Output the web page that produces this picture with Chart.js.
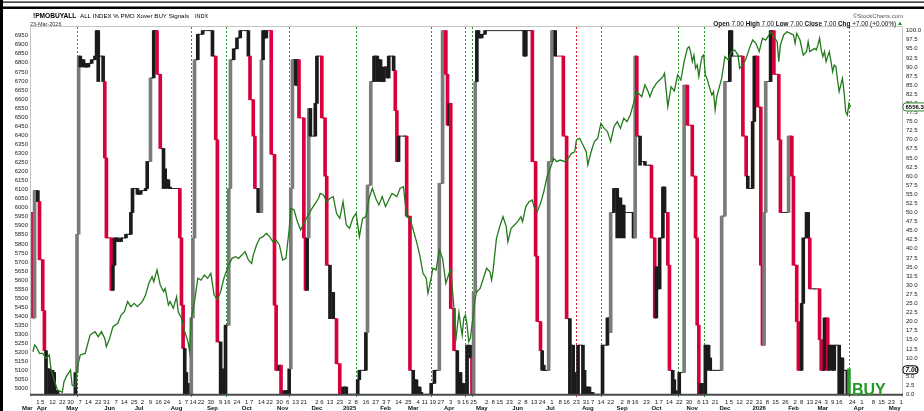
<!DOCTYPE html>
<html>
<head>
<meta charset="utf-8">
<title>!PMOBUYALL</title>
<script src="https://cdn.jsdelivr.net/npm/chart.js@4.4.1/dist/chart.umd.min.js"></script>
<style>
  html, body { margin: 0; padding: 0; background: #fff; }
  #wrap { width: 924px; height: 411px; }
</style>
</head>
<body>
<div id="wrap"><canvas id="chart" width="924" height="411"></canvas></div>
<script>
// x values are trading-day numbers, 0 = end of Mar 2024, 500 = 23-Mar-2026

// S&P 500 close (left axis), [day, close]
const spxCloses = [
  [0,5204],[1,5241],[2,5232],[4,5195],[6,5195],[8,5168],[10,5186],[11,5112],[13,5048],[15,4993],[18,4980],[19,5039],
  [21,5076],[23,5103],[24,5020],[26,5011],[27,5112],[29,5186],[32,5195],[35,5296],[38,5315],[40,5287],[42,5315],
  [44,5278],[45,5232],[47,5278],[49,5343],[52,5361],[54,5407],[56,5425],[58,5481],[60,5453],[62,5471],[64,5453],
  [67,5481],[69,5517],[71,5582],[73,5619],[74,5591],[76,5656],[78,5573],[80,5536],[81,5554],[83,5462],[84,5481],
  [86,5444],[88,5508],[89,5425],[91,5389],[93,5315],[95,5260],[96,5204],[97,5390],[99,5481],[101,5610],[103,5600],
  [105,5628],[107,5610],[109,5637],[111,5517],[113,5490],[115,5536],[117,5610],[120,5683],[122,5720],[124,5729],
  [126,5720],[128,5738],[130,5757],[132,5711],[134,5692],[135,5738],[137,5794],[139,5831],[141,5840],[143,5858],
  [145,5840],[147,5812],[149,5821],[151,5794],[153,5711],[155,5720],[157,5880],[158,5996],[160,5987],[162,5923],
  [164,5877],[166,5913],[168,5950],[171,5996],[173,6024],[175,6052],[176,6079],[178,6070],[180,6033],[182,6052],
  [184,6061],[186,5969],[188,5941],[190,6033],[192,5904],[194,5886],[196,5941],[198,5969],[200,5840],[202,5941],
  [204,5950],[206,6052],[208,6107],[210,6052],[212,6015],[214,6061],[216,6006],[218,6042],[220,6079],[223,6061],
  [225,6107],[227,6116],[229,5950],[231,5941],[233,5877],[235,5812],[237,5738],[239,5637],[241,5610],[242,5527],
  [244,5610],[245,5665],[247,5656],[249,5767],[251,5720],[253,5582],[255,5637],[256,5656],[258,5444],[259,5260],
  [261,5420],[262,5352],[263,5296],[264,5389],[265,5407],[266,5352],[267,5260],[268,5278],[269,5352],[271,5499],
  [272,5536],[274,5554],[276,5610],[278,5665],[280,5646],[281,5600],[282,5656],[284,5831],[286,5895],[288,5950],
  [290,5895],[291,5812],[293,5886],[295,5904],[297,5923],[299,5950],[300,5923],[302,6006],[304,6033],[306,6042],
  [307,6006],[309,5978],[311,6024],[313,6088],[315,6171],[317,6217],[319,6273],[321,6254],[323,6263],[326,6254],
  [328,6273],[330,6300],[332,6309],[333,6374],[335,6383],[337,6346],[339,6309],[340,6236],[342,6309],[344,6365],
  [346,6383],[348,6466],[350,6438],[352,6420],[354,6365],[356,6447],[358,6475],[360,6438],[362,6494],[364,6475],
  [366,6512],[368,6576],[370,6641],[373,6613],[375,6678],[377,6641],[378,6613],[380,6659],[382,6687],[384,6705],
  [386,6724],[387,6742],[389,6558],[391,6668],[393,6645],[395,6733],[397,6705],[399,6807],[401,6880],[402,6889],
  [403,6862],[404,6807],[405,6843],[406,6770],[407,6788],[408,6724],[409,6788],[410,6834],[411,6843],[412,6733],
  [413,6714],[415,6650],[416,6622],[417,6641],[418,6540],[419,6613],[422,6714],[424,6834],[426,6816],[428,6862],
  [430,6871],[432,6843],[433,6770],[435,6788],[437,6825],[439,6880],[441,6926],[443,6908],[445,6862],[447,6936],
  [449,6926],[451,6954],[452,6972],[454,6945],[456,6917],[457,6807],[458,6899],[460,6954],[462,6972],[464,6963],
  [466,6954],[467,6908],[468,6963],[470,6926],[472,6843],[474,6862],[475,6917],[476,6862],[479,6880],[480,6871],
  [481,6899],[482,6936],[483,6871],[484,6834],[485,6862],[486,6807],[488,6862],[489,6807],[490,6751],[491,6788],
  [492,6779],[493,6705],[494,6641],[495,6678],[496,6714],[497,6641],[498,6530],[499,6512],[500,6576],[501,6556.3]
];

// % of index members on a PMO crossover BUY signal (right axis), [day, value]
const pmoBuyPct = [
  [-1,50],[0,21],[1,56],[3,53],[4,37],[6,23],[7,12],[8,7],[10,6.6],[12,6],[13,0],[14,1],[15,0],
  [26,6],[27,44],[28,93],[29,92],[31,91],[32,90],[34,91],[36,92],[38,93],[39,100],[40,93],[43,86],[44,65],[45,43],
  [48,28.6],[49,35.5],[50,43],[52,42],[54,43],[57,44],[59,44],[60,50],[61,56.6],[64,55],[66,56],[69,56.6],[70,64],
  [72,87],[74,100],[75,100],[76,88],[78,67.6],[80,62],[81,59],[83,57],[84,56.6],[89,56.6],[90,43],[91,24.5],[92,12.6],
  [93,6],[94,3],[95,1],[96,0],
  [97,21],[98,43],[99,92],[101,99],[104,100],[108,100],[110,93],[112,70],[113,14.4],[115,7],[116,3],[117,0],
  [118,19],[120,56.6],[121,92],[123,95],[125,98],[127,100],[131,100],[132,93],[133,81],[135,71],[136,56.6],[138,50],
  [140,92],[141,100],[142,98],[143,100],[146,66],[148,24.5],[149,6.6],[151,8],[152,0],[154,1],[156,0],
  [157,7],[158,56.6],[159,92],[161,85],[162,92],[163,76],[166,43],[167,28.6],[168,43],[169,78.6],[170,71],[173,80],
  [174,93],[177,76],[179,60],[180,35.5],[182,28],[184,20.8],[186,8.4],[188,0],[190,2],[192,0],
  [199,4],[200,6.6],[203,6.6],[204,17],[205,57.5],[207,86],[209,93],[211,92],[213,86],[215,90],[217,87],[218,93],
  [221,89],[222,78],[223,64],[224,71],[228,71],[229,49],[231,6.6],[233,4],[235,2],[237,0.5],[238,0],
  [244,3],[246,6.6],[248,6.6],[249,58],[251,100],[253,88],[254,74],[255,80],[256,23.6],[258,12],[260,6],[262,3],[264,0],
  [266,13.5],[268,10],[269,0],[270,28],[271,86],[272,100],[273,98],[275,99],[277,100],[300,100],[301,93],[302,100],
  [305,100],[306,64],[308,38],[309,20],[311,12],[312,8],[313,6.6],[315,6.6],[316,64],[318,100],[320,93],[325,71],
  [327,20.8],[329,13.5],[331,6],[332,0],
  [334,13.5],[337,6.6],[338,0],[339,2],[341,0.5],[343,0],
  [349,13.5],[352,21],[353,17],[354,50],[356,56.6],[358,54],[360,52],[362,50],[367,50],[368,43],[369,93],[370,71],
  [372,64],[375,63],[378,63],[379,43],[381,21],[382,35],[383,29],[384,43],[386,57],[387,50],[388,50],[389,35.5],
  [390,6.6],[392,4],[393,1],[394,0],
  [396,6],[399,85],[401,74],[404,60],[406,43],[407,19],[408,0],[409,3],[410,0],
  [412,13.5],[414,10],[415,6.6],[418,6.6],[421,6.6],[422,49],[424,86],[427,100],[428,93],[433,93],[435,71],[437,60],
  [438,56.6],[439,56.6],[441,75],[442,93],[444,79],[446,35.5],[447,13.5],[448,50],[449,86],[452,100],[454,88],[457,70],
  [458,50],[461,50],[463,71],[465,60],[466,35.5],[468,20],[469,6.6],[471,25],[472,43],[474,50],[475,43],[476,29],
  [479,29],[482,15],[483,6.6],[485,21],[487,6.6],[488,13.5],[490,6.6],[491,13.5],[494,10],[496,6.6],[498,6.6],
  [499,0],[500,7]
];

const buySignalDays = [27, 97, 118, 157, 198, 244, 265, 269, 348, 395, 411, 500];
const sellSignalDays = [333];

const dayTicks = [
  [3,'1'],[6,'5'],[12,'12'],[18,'22'],[23,'30'],[29,'7'],[34,'14'],[40,'22'],[45,'31'],[51,'7'],[56,'14'],[62,'25'],
  [67,'2'],[72,'9'],[77,'16'],[82,'24'],[90,'1'],[94,'7'],[98,'14'],[103,'22'],[109,'30'],[115,'9'],[119,'16'],
  [125,'24'],[131,'1'],[134,'7'],[140,'14'],[145,'22'],[151,'30'],[156,'6'],[161,'13'],[166,'21'],[174,'2'],[177,'6'],
  [182,'13'],[188,'23'],[194,'2'],[198,'8'],[204,'16'],[210,'27'],[215,'3'],[218,'7'],[224,'14'],[230,'25'],[236,'4'],
  [240,'11'],[245,'19'],[250,'27'],[256,'3'],[261,'9'],[265,'16'],[270,'25'],[278,'2'],[282,'8'],[286,'15'],[292,'23'],
  [298,'2'],[302,'8'],[307,'13'],[312,'24'],[318,'1'],[323,'8'],[327,'16'],[333,'23'],[339,'31'],[343,'7'],[348,'14'],
  [354,'22'],[361,'2'],[365,'8'],[369,'16'],[376,'23'],[382,'1'],[385,'7'],[390,'14'],[396,'22'],[402,'30'],[408,'6'],
  [412,'13'],[418,'21'],[425,'1'],[428,'5'],[433,'12'],[439,'22'],[445,'31'],[450,'8'],[455,'15'],[461,'26'],[467,'2'],
  [471,'8'],[476,'13'],[481,'24'],[486,'3'],[490,'9'],[494,'16'],[502,'24'],[508,'1'],[515,'8'],[520,'15'],[526,'23'],
  [532,'1']
];
const monthTicks = [
  [-3.5,'Mar'],[5.5,'Apr'],[24,'May'],[47,'Jun'],[65,'Jul'],[88,'Aug'],[110,'Sep'],[131,'Oct'],[153,'Nov'],[174,'Dec'],
  [194,'2025'],[216,'Feb'],[233,'Mar'],[255,'Apr'],[275,'May'],[297,'Jun'],[317,'Jul'],[340,'Aug'],[361,'Sep'],
  [382,'Oct'],[404,'Nov'],[424,'Dec'],[445,'2026'],[466,'Feb'],[484,'Mar'],[506,'Apr'],[528,'May']
];

const priceTicks = [];
for (let v = 5000; v <= 6950; v += 50) priceTicks.push(v);
const pctTicks = [];
for (let i = 0; i <= 40; i++) pctTicks.push(i * 2.5);

const RED = '#d6003c';
const GRAY = '#7b7b7b';
const DARK = '#1b1b1b';
const SIG_GREEN = '#1ea01e';

// bar for each day spans previous close -> close; a slow drift down is drawn
// filled down to where that run of declines bottoms out
const vals = pmoBuyPct.map(p => p[1]);
const barData = pmoBuyPct.map((p, i) => {
  const prev = i ? vals[i - 1] : vals[i];
  const cur = vals[i];
  if (cur < prev && prev - cur < 8) {
    let j = i;
    while (j + 1 < vals.length && vals[j + 1] <= vals[j] && vals[j] - vals[j + 1] < 8) j++;
    return { x: p[0], y: [vals[j], prev] };
  }
  return { x: p[0], y: [prev, cur] };
});
const barColors = pmoBuyPct.map((p, i) => {
  if (i === vals.length - 1) return '#2e9e2e';
  const diff = vals[i] - (i ? vals[i - 1] : vals[i]);
  if (diff > 0) return diff >= 20 ? GRAY : DARK;
  return diff <= -8 ? RED : DARK;
});

Chart.defaults.font.family = '"Liberation Sans", Arial, sans-serif';

const frame = {
  id: 'frame',
  beforeDraw(chart) {
    const { ctx, width, height } = chart;
    ctx.save();
    ctx.fillStyle = '#fff';
    ctx.fillRect(0, 0, width, height);
    ctx.fillStyle = '#000';
    ctx.fillRect(0, 1.5, width, 1.2);
    ctx.fillRect(0, 6.5, width, 2.5);
    ctx.fillRect(0, 0, 3, height);
    ctx.restore();
  },
  beforeDatasetsDraw(chart) {
    const { ctx, chartArea: a, scales } = chart;
    ctx.save();
    ctx.lineWidth = 1;
    ctx.setLineDash([2, 2]);
    const mark = (days, color) => days.forEach(d => {
      const px = Math.round(scales.x.getPixelForValue(d)) + 0.5;
      ctx.strokeStyle = color;
      ctx.beginPath();
      ctx.moveTo(px, a.top);
      ctx.lineTo(px, a.bottom);
      ctx.stroke();
    });
    mark(buySignalDays, SIG_GREEN);
    mark(sellSignalDays, '#e8202a');
    ctx.restore();
  },
  afterDraw(chart) {
    const { ctx, chartArea: a, scales } = chart;
    ctx.save();

    // plot border + zero line
    ctx.strokeStyle = '#c4c4c4';
    ctx.lineWidth = 1;
    ctx.beginPath();
    ctx.moveTo(a.left - 0.5, a.bottom);
    ctx.lineTo(a.left - 0.5, a.top - 0.5);
    ctx.lineTo(a.right + 0.5, a.top - 0.5);
    ctx.lineTo(a.right + 0.5, a.bottom);
    ctx.stroke();
    const y0 = scales.yR.getPixelForValue(0);
    ctx.strokeStyle = '#4a4a4a';
    ctx.lineWidth = 2;
    ctx.beginPath();
    ctx.moveTo(a.left - 1, y0 + 0.5);
    ctx.lineTo(a.right + 1, y0 + 0.5);
    ctx.stroke();

    // header
    ctx.textBaseline = 'alphabetic';
    ctx.fillStyle = '#000';
    ctx.font = 'bold 6.6px "Liberation Sans", Arial';
    ctx.fillText('!PMOBUYALL', 33, 17.5);
    ctx.font = '6.2px "Liberation Sans", Arial';
    ctx.fillText('ALL INDEX % PMO Xover BUY Signals', 80, 17.5);
    ctx.font = '5.5px "Liberation Sans", Arial';
    ctx.fillText('INDX', 195, 17.5);
    ctx.fillStyle = '#333';
    ctx.fillText('23-Mar-2026', 30, 25.5);
    ctx.textAlign = 'right';
    ctx.fillStyle = '#555';
    ctx.font = '6px "Liberation Sans", Arial';
    ctx.fillText('\u00A9StockCharts.com', 903, 17.5);

    const last = vals[vals.length - 1].toFixed(2);
    const parts = [['Open ', 1], [last + ' ', 0], ['High ', 1], [last + ' ', 0], ['Low ', 1], [last + ' ', 0],
      ['Close ', 1], [last + ' ', 0], ['Chg ', 1], ['+' + last + ' (+0.00%) ', 0]];
    const fontOf = b => (b ? 'bold ' : '') + '6.4px "Liberation Sans", Arial';
    let total = 0;
    parts.forEach(p => { ctx.font = fontOf(p[1]); total += ctx.measureText(p[0]).width; });
    let px = 898 - total;
    ctx.textAlign = 'left';
    ctx.fillStyle = '#111';
    parts.forEach(p => { ctx.font = fontOf(p[1]); ctx.fillText(p[0], px, 25.5); px += ctx.measureText(p[0]).width; });
    ctx.fillStyle = '#1e9a1e';
    ctx.beginPath();
    ctx.moveTo(px, 25);
    ctx.lineTo(px + 4, 25);
    ctx.lineTo(px + 2, 21.5);
    ctx.closePath();
    ctx.fill();

    // BUY
    const xb = scales.x.getPixelForValue(buySignalDays[buySignalDays.length - 1]);
    ctx.fillStyle = '#229a22';
    ctx.font = 'bold 16px "Liberation Sans", Arial';
    ctx.fillText('BUY', xb + 3, y0 + 1);

    // last value tags
    const tag = (text, y, stroke, w, font) => {
      const x = a.right + 1;
      ctx.beginPath();
      ctx.roundRect(x, y - 4, w, 8, 3);
      ctx.fillStyle = '#fff';
      ctx.fill();
      ctx.lineWidth = 1;
      ctx.strokeStyle = stroke;
      ctx.stroke();
      ctx.fillStyle = '#000';
      ctx.font = font;
      ctx.textBaseline = 'middle';
      ctx.fillText(text, x + 2.5, y + 0.5);
    };
    const lastSpx = spxCloses[spxCloses.length - 1][1];
    tag(lastSpx.toFixed(1), scales.yL.getPixelForValue(lastSpx), '#2a8a2a', 26, 'bold 6px "Liberation Sans", Arial');
    tag(last, scales.yR.getPixelForValue(vals[vals.length - 1]) + 1, '#000', 15, 'bold italic 6.5px "Liberation Sans", Arial');
    ctx.restore();
  }
};

const axisFont = { size: 6 };

new Chart(document.getElementById('chart'), {
  type: 'bar',
  data: {
    datasets: [
      {
        type: 'line',
        label: 'S&P 500',
        data: spxCloses.map(p => ({ x: p[0], y: p[1] })),
        yAxisID: 'yL',
        borderColor: '#237a1b',
        borderWidth: 1.3,
        pointRadius: 0,
        tension: 0,
        order: 0
      },
      {
        type: 'bar',
        label: '!PMOBUYALL',
        data: barData,
        yAxisID: 'yR',
        backgroundColor: barColors,
        borderWidth: 0,
        barThickness: 3,
        order: 1
      },
      {
        type: 'line',
        label: 'step',
        data: pmoBuyPct.map(p => ({ x: p[0], y: p[1] })),
        yAxisID: 'yR',
        stepped: 'before',
        borderColor: '#2a2a2a',
        borderWidth: 1,
        pointRadius: 0,
        segment: {
          borderColor: c => (c.p1.parsed.y - c.p0.parsed.y <= -8 ? RED : '#2a2a2a')
        },
        order: 2
      }
    ]
  },
  options: {
    responsive: false,
    animation: false,
    layout: { padding: { top: 27, left: 0, right: 0, bottom: 0 }, autoPadding: false },
    plugins: { legend: { display: false }, tooltip: { enabled: false } },
    scales: {
      x: {
        type: 'linear', position: 'bottom', min: -1.2, max: 532.5, offset: false, weight: 0,
        grid: { display: false, drawTicks: false }, border: { display: false },
        afterBuildTicks: s => { s.ticks = dayTicks.map(t => ({ value: t[0] })); },
        ticks: { autoSkip: false, maxRotation: 0, padding: 2, font: axisFont, color: '#222',
          callback: (v, i) => dayTicks[i][1] },
        afterFit: s => { s.height = 7; }
      },
      xm: {
        type: 'linear', position: 'bottom', min: -1.2, max: 532.5, offset: false, weight: 1,
        grid: { display: false, drawTicks: false }, border: { display: false },
        afterBuildTicks: s => { s.ticks = monthTicks.map(t => ({ value: t[0] })); },
        ticks: { autoSkip: false, maxRotation: 0, padding: 1, font: { size: 6, weight: 'bold' }, color: '#111',
          callback: (v, i) => monthTicks[i][1] },
        afterFit: s => { s.height = 7; }
      },
      yL: {
        type: 'linear', position: 'left', min: 4954, max: 6998,
        grid: { display: false, drawTicks: false }, border: { display: false },
        afterBuildTicks: s => { s.ticks = priceTicks.map(v => ({ value: v })); },
        ticks: { autoSkip: false, padding: 3, font: axisFont, color: '#222', callback: v => String(v) },
        afterFit: s => { s.width = 31; }
      },
      yR: {
        type: 'linear', position: 'right', min: -0.74, max: 101,
        grid: { display: false, drawTicks: false }, border: { display: false },
        afterBuildTicks: s => { s.ticks = pctTicks.map(v => ({ value: v })); },
        ticks: { autoSkip: false, padding: 4, font: axisFont, color: '#222', callback: v => v.toFixed(1) },
        afterFit: s => { s.width = 22; }
      }
    }
  },
  plugins: [frame]
});
</script>
</body>
</html>
